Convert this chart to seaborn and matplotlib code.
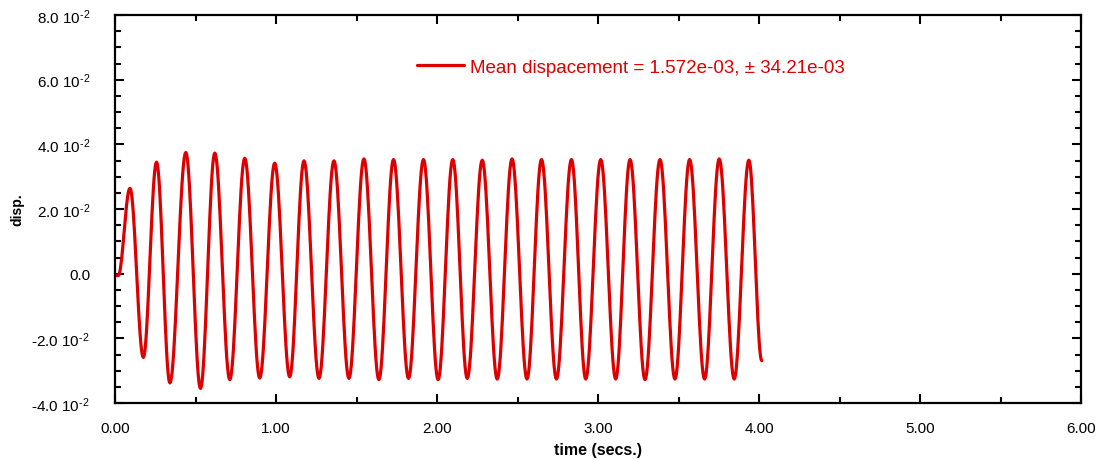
import numpy as np
import pandas as pd
import matplotlib
matplotlib.use("Agg")
import matplotlib.pyplot as plt
from matplotlib.ticker import MultipleLocator, FixedLocator, FixedFormatter
import seaborn as sns

# ---- data (times of extrema, secs; displacement) ----
ext_time = [0.00, 0.02, 0.093, 0.176, 0.258, 0.341, 0.440, 0.531, 0.620, 0.713,
            0.806, 0.899, 0.992, 1.085, 1.174, 1.267, 1.360, 1.453, 1.546, 1.639,
            1.730, 1.823, 1.916, 2.007, 2.098, 2.188, 2.281, 2.374, 2.466, 2.559,
            2.649, 2.742, 2.835, 2.924, 3.017, 3.110, 3.199, 3.292, 3.385, 3.478,
            3.569, 3.662, 3.753, 3.846, 3.937, 4.017]
ext_disp = [-0.0006, -0.0006, 0.0264, -0.0259, 0.0345, -0.0338, 0.0375, -0.0355,
            0.0373, -0.0328, 0.0357, -0.0323, 0.0342, -0.0319, 0.0349, -0.0324,
            0.0349, -0.0324, 0.0355, -0.0328, 0.0353, -0.0324, 0.0353, -0.0328,
            0.0353, -0.0324, 0.0351, -0.0326, 0.0355, -0.0326, 0.0353, -0.0326,
            0.0353, -0.0326, 0.0353, -0.0326, 0.0353, -0.0328, 0.0353, -0.0326,
            0.0353, -0.0326, 0.0355, -0.0326, 0.0351, -0.0269]

legend_label = "Mean dispacement = 1.572e-03, \u00b1 34.21e-03"
x_label = "time (secs.)"
y_label = "disp."
x_ticks = [0, 1, 2, 3, 4, 5, 6]
x_ticklabels = ["0.00", "1.00", "2.00", "3.00", "4.00", "5.00", "6.00"]
y_ticks = [-0.04, -0.02, 0.0, 0.02, 0.04, 0.06, 0.08]
y_ticklabels = ["-4.0 10$^{\\text{-}2}$", "-2.0 10$^{\\text{-}2}$", "0.0", "2.0 10$^{\\text{-}2}$",
                "4.0 10$^{\\text{-}2}$", "6.0 10$^{\\text{-}2}$", "8.0 10$^{\\text{-}2}$"]

RED = "#DD0000"

# smooth rendering of the trace between consecutive extrema (half-cosine shape)
tt, vv = [], []
for i in range(len(ext_time) - 1):
    s = np.linspace(0, 1, 20, endpoint=False)
    t0, t1 = ext_time[i], ext_time[i + 1]
    v0, v1 = ext_disp[i], ext_disp[i + 1]
    tt.extend(t0 + (t1 - t0) * s)
    vv.extend(v0 + (v1 - v0) * (1 - np.cos(np.pi * s)) / 2)
tt.append(ext_time[-1]); vv.append(ext_disp[-1])
df = pd.DataFrame({"t": tt, "d": vv, "series": legend_label})

sns.set_theme(style="white")
plt.rcParams["font.family"] = ["Liberation Sans", "DejaVu Sans"]
plt.rcParams["mathtext.fontset"] = "custom"
plt.rcParams["mathtext.rm"] = "Liberation Sans"
plt.rcParams["mathtext.it"] = "Liberation Sans"
plt.rcParams["mathtext.bf"] = "Liberation Sans:bold"
plt.rcParams["mathtext.default"] = "regular"
plt.rcParams["text.color"] = "black"
plt.rcParams["axes.labelcolor"] = "black"
plt.rcParams["xtick.color"] = "black"
plt.rcParams["ytick.color"] = "black"

fig = plt.figure(figsize=(11.01, 4.60), dpi=100)
ax = fig.add_axes([115 / 1101, 1 - 404 / 460, (1081 - 115) / 1101, (404 - 16) / 460])

sns.lineplot(data=df, x="t", y="d", hue="series", palette=[RED], sort=False,
             estimator=None, linewidth=2.3, ax=ax)

ax.set_xlim(0, 6)
ax.set_ylim(-0.04, 0.08)

ax.xaxis.set_major_locator(FixedLocator(x_ticks))
ax.xaxis.set_major_formatter(FixedFormatter(x_ticklabels))
ax.xaxis.set_minor_locator(MultipleLocator(0.5))
ax.yaxis.set_major_locator(FixedLocator(y_ticks))
ax.yaxis.set_major_formatter(FixedFormatter(y_ticklabels))
ax.yaxis.set_minor_locator(MultipleLocator(0.005))

for sp in ax.spines.values():
    sp.set_visible(True)
    sp.set_linewidth(1.6)
    sp.set_color("black")

ax.tick_params(which="both", direction="in", top=True, right=True, bottom=True, left=True,
               width=1.5, color="black")
ax.tick_params(which="major", length=6.5)
ax.tick_params(which="minor", length=4)
ax.tick_params(axis="y", which="major", pad=18, labelsize=11)
ax.tick_params(axis="x", which="major", pad=13, labelsize=11)

ax.set_xlabel(x_label, fontsize=11.5, fontweight="bold", labelpad=5)
ax.set_ylabel(y_label, fontsize=10, fontweight="bold", labelpad=5)

leg = ax.legend(loc="center left", bbox_to_anchor=((417 - 115) / 966, (404 - 68) / 388),
                frameon=False, fontsize=13.5, handlelength=2.5, handletextpad=0.33,
                borderpad=0, borderaxespad=0)
for txt in leg.get_texts():
    txt.set_color(RED)

fig.savefig("out.png", dpi=100)
